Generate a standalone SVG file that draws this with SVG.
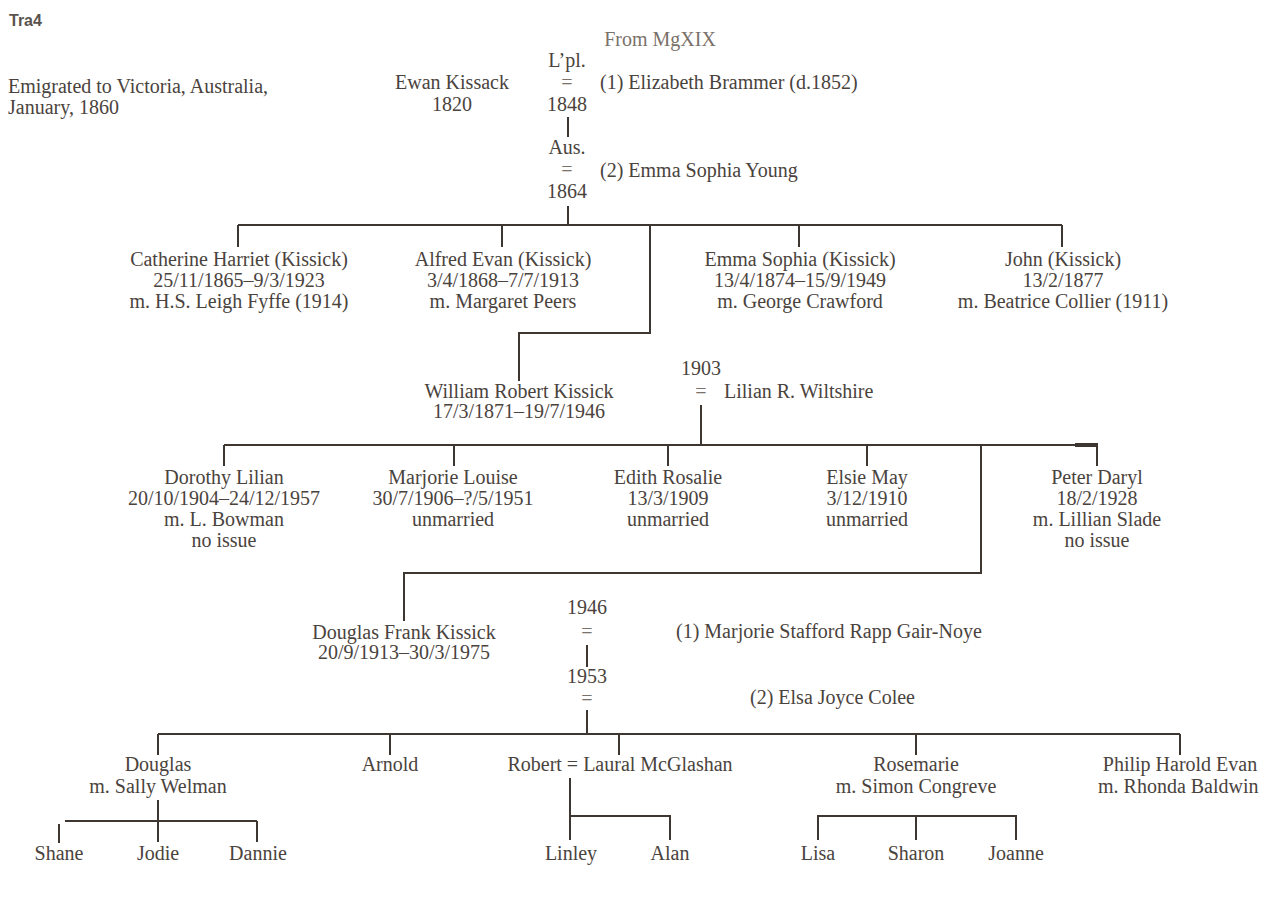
<svg xmlns="http://www.w3.org/2000/svg" width="1268" height="900" viewBox="0 0 1268 900">
<style>
text{font-family:"Liberation Serif","Times New Roman",serif;font-size:20px;fill:#4a433d}
.m{text-anchor:middle}
.lt{fill:#7a716a}
.hd{font-family:"Liberation Sans",Arial,sans-serif;font-size:16px;font-weight:bold;fill:#5a534d}
.ln{stroke:#3d3631;stroke-width:2;fill:none}
</style>
<rect width="1268" height="900" fill="#ffffff"/>
<g id="connectors" class="ln">
<path d="M568 117V137"/>
<path d="M568 206V225"/>
<path d="M238 225H1062M238 225V247M502 225V247M799 225V247M1062 225V247"/>
<path d="M650 225V333H519V381"/>
<path d="M701 405V445"/>
<path d="M224 445H1098M224 445V466M454 445V466M668 445V466M867 445V466M1097 445V466"/>
<path d="M1075 445H1098" stroke-width="4"/>
<path d="M981 445V573H404V621"/>
<path d="M587 645V667"/>
<path d="M587 710V734"/>
<path d="M158 734H1180M158 734V755M390 734V755M619 734V755M916 734V755M1180 734V755"/>
<path d="M158 800V842M65 821H257M257 821V842M59 824V843"/>
<path d="M570 778V840M570 816H670V840"/>
<path d="M818 840V816H1016V840M916 816V840"/>
</g>
<g id="header">
<text x="9" y="26" class="hd">Tra4</text>
<text x="8" y="93">Emigrated to Victoria, Australia,</text>
<text x="8" y="114">January, 1860</text>
</g>
<g id="ewan">
<text x="452" y="89" class="m">Ewan Kissack</text>
<text x="452" y="111" class="m">1820</text>
</g>
<g id="marriage1">
<text x="660" y="46" class="m lt">From MgXIX</text>
<text x="567" y="67" class="m">L’pl.</text>
<text x="567" y="89" class="m lt">=</text>
<text x="567" y="111" class="m">1848</text>
<text x="600" y="89">(1) Elizabeth Brammer (d.1852)</text>
</g>
<g id="marriage2">
<text x="567" y="154" class="m">Aus.</text>
<text x="567" y="176" class="m lt">=</text>
<text x="567" y="198" class="m">1864</text>
<text x="600" y="177">(2) Emma Sophia Young</text>
</g>
<g id="catherine">
<text x="239" y="266" class="m">Catherine Harriet (Kissick)</text>
<text x="239" y="287" class="m">25/11/1865–9/3/1923</text>
<text x="239" y="308" class="m">m. H.S. Leigh Fyffe (1914)</text>
</g>
<g id="alfred">
<text x="503" y="266" class="m">Alfred Evan (Kissick)</text>
<text x="503" y="287" class="m">3/4/1868–7/7/1913</text>
<text x="503" y="308" class="m">m. Margaret Peers</text>
</g>
<g id="emma">
<text x="800" y="266" class="m">Emma Sophia (Kissick)</text>
<text x="800" y="287" class="m">13/4/1874–15/9/1949</text>
<text x="800" y="308" class="m">m. George Crawford</text>
</g>
<g id="john">
<text x="1063" y="266" class="m">John (Kissick)</text>
<text x="1063" y="287" class="m">13/2/1877</text>
<text x="1063" y="308" class="m">m. Beatrice Collier (1911)</text>
</g>
<g id="william">
<text x="519" y="398" class="m">William Robert Kissick</text>
<text x="519" y="418" class="m">17/3/1871–19/7/1946</text>
</g>
<g id="marriage3">
<text x="701" y="375" class="m">1903</text>
<text x="701" y="398" class="m lt">=</text>
<text x="724" y="398">Lilian R. Wiltshire</text>
</g>
<g id="dorothy">
<text x="224" y="484" class="m">Dorothy Lilian</text>
<text x="224" y="505" class="m">20/10/1904–24/12/1957</text>
<text x="224" y="526" class="m">m. L. Bowman</text>
<text x="224" y="547" class="m">no issue</text>
</g>
<g id="marjorie">
<text x="453" y="484" class="m">Marjorie Louise</text>
<text x="453" y="505" class="m">30/7/1906–?/5/1951</text>
<text x="453" y="526" class="m">unmarried</text>
</g>
<g id="edith">
<text x="668" y="484" class="m">Edith Rosalie</text>
<text x="668" y="505" class="m">13/3/1909</text>
<text x="668" y="526" class="m">unmarried</text>
</g>
<g id="elsie">
<text x="867" y="484" class="m">Elsie May</text>
<text x="867" y="505" class="m">3/12/1910</text>
<text x="867" y="526" class="m">unmarried</text>
</g>
<g id="peter">
<text x="1097" y="484" class="m">Peter Daryl</text>
<text x="1097" y="505" class="m">18/2/1928</text>
<text x="1097" y="526" class="m">m. Lillian Slade</text>
<text x="1097" y="547" class="m">no issue</text>
</g>
<g id="douglasfrank">
<text x="404" y="639" class="m">Douglas Frank Kissick</text>
<text x="404" y="659" class="m">20/9/1913–30/3/1975</text>
</g>
<g id="marriage4">
<text x="587" y="614" class="m">1946</text>
<text x="587" y="638" class="m lt">=</text>
<text x="676" y="638">(1) Marjorie Stafford Rapp Gair-Noye</text>
</g>
<g id="marriage5">
<text x="587" y="683" class="m">1953</text>
<text x="587" y="705" class="m lt">=</text>
<text x="750" y="704">(2) Elsa Joyce Colee</text>
</g>
<g id="douglas">
<text x="158" y="771" class="m">Douglas</text>
<text x="158" y="793" class="m">m. Sally Welman</text>
</g>
<g id="arnold">
<text x="390" y="771" class="m">Arnold</text>
</g>
<g id="robert">
<text x="620" y="771" class="m">Robert = Laural McGlashan</text>
</g>
<g id="rosemarie">
<text x="916" y="771" class="m">Rosemarie</text>
<text x="916" y="793" class="m">m. Simon Congreve</text>
</g>
<g id="philip">
<text x="1180" y="771" class="m">Philip Harold Evan</text>
<text x="1098" y="793">m. Rhonda Baldwin</text>
</g>
<g id="shane"><text x="59" y="860" class="m">Shane</text></g>
<g id="jodie"><text x="158" y="860" class="m">Jodie</text></g>
<g id="dannie"><text x="258" y="860" class="m">Dannie</text></g>
<g id="linley"><text x="571" y="860" class="m">Linley</text></g>
<g id="alan"><text x="670" y="860" class="m">Alan</text></g>
<g id="lisa"><text x="818" y="860" class="m">Lisa</text></g>
<g id="sharon"><text x="916" y="860" class="m">Sharon</text></g>
<g id="joanne"><text x="1016" y="860" class="m">Joanne</text></g>
</svg>
